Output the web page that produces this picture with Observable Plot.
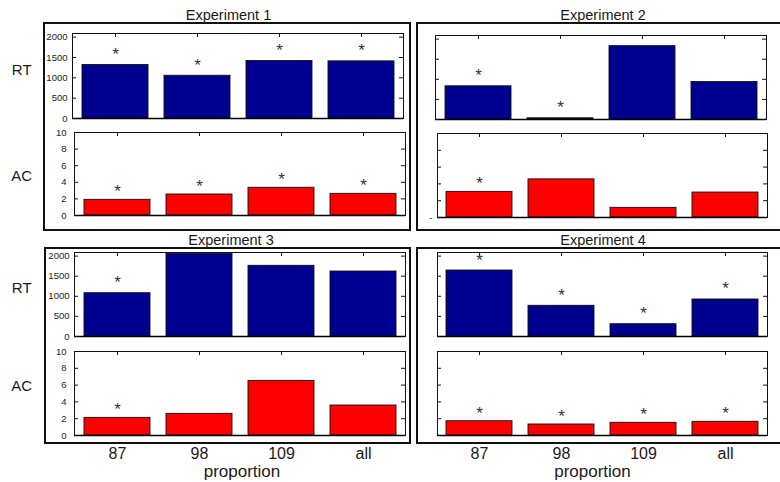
<!DOCTYPE html>
<html><head><meta charset="utf-8">
<script src="https://cdn.jsdelivr.net/npm/d3@7"></script>
<script src="https://cdn.jsdelivr.net/npm/@observablehq/plot@0.6"></script>
<style>
body{margin:0;background:#fff}
#chart{position:relative;width:780px;height:482px;overflow:hidden;background:#fff;font-family:"Liberation Sans",Arial,sans-serif;color:#1a1a1a}
.box{position:absolute;border:2px solid #111;box-sizing:border-box}
.lbl{position:absolute;line-height:1;white-space:nowrap;transform:translateX(-50%)}
.panel{position:absolute}
.panel svg{overflow:visible}
</style></head><body><div id="chart"></div>
<script>
// ---- data ----
const categories = ["87", "98", "109", "all"];
const titles = ["Experiment 1", "Experiment 2", "Experiment 3", "Experiment 4"];
const rowLabels = ["RT", "AC"];
const xLabel = "proportion";

const rtExp1 = [1316, 1051, 1415, 1405];
const rtExp2 = [826, 30, 1825, 932];
const rtExp3 = [1077, 2058, 1759, 1617];
const rtExp4 = [1642, 764, 306, 921];

const acExp1 = [1.89, 2.53, 3.34, 2.61];
const acExp2 = [3.05, 4.54, 1.15, 2.97];
const acExp3 = [2.10, 2.58, 6.50, 3.57];
const acExp4 = [1.70, 1.31, 1.51, 1.63];

// significance markers (*)
const rtSig1 = [true, true, true, true];
const rtSig2 = [true, true, false, false];
const rtSig3 = [true, false, false, false];
const rtSig4 = [true, true, true, true];
const acSig1 = [true, true, true, true];
const acSig2 = [true, false, false, false];
const acSig3 = [true, false, false, false];
const acSig4 = [true, true, true, true];

const rtTicks = [0, 500, 1000, 1500, 2000];
const acTicks = [0, 2, 4, 6, 8, 10];
const rtDomain = [0, 2090];
const acDomain = [0, 10];

// ---- layout ----
const chart = document.getElementById("chart");
const RT_COLOR = "#00008f", AC_COLOR = "#ff0000";

function addBox(l, t, r, b) {
  const d = document.createElement("div");
  d.className = "box";
  Object.assign(d.style, {left: l + "px", top: t + "px", width: (r - l) + "px", height: (b - t) + "px"});
  chart.appendChild(d);
}
function addLabel(text, cx, baseline, fs) {
  const d = document.createElement("div");
  d.className = "lbl";
  d.textContent = text;
  Object.assign(d.style, {left: cx + "px", top: (baseline - 0.8465 * fs) + "px", fontSize: fs + "px"});
  chart.appendChild(d);
}

addBox(43, 22, 411, 231);
addBox(416, 22, 790, 231);
addBox(44, 247, 411, 444);
addBox(416, 247, 790, 444);

addLabel(titles[0], 228.5, 20.7, 14.5);
addLabel(titles[1], 603, 20.5, 14.5);
addLabel(titles[2], 231, 245, 14.5);
addLabel(titles[3], 603, 245, 14.5);

addLabel(rowLabels[0], 21.7, 75, 15);
addLabel(rowLabels[1], 21.7, 180.5, 15);
addLabel(rowLabels[0], 21.7, 293, 15);
addLabel(rowLabels[1], 21.7, 390.5, 15);

function panel({fx, fy, fw, fh, kind, values, sig, showY, bottom, propDx, stray}) {
  const isRT = kind === "RT";
  const ticks = isRT ? rtTicks : acTicks;
  const ml = 40, mr = 8, mt = 8, mb = bottom ? 48 : 8;
  const rows = categories.map((c, i) => ({c, v: values[i], s: sig[i]}));
  const marks = [
    Plot.barY(rows, {x: "c", y: "v", fill: isRT ? RT_COLOR : AC_COLOR, stroke: "#111", strokeWidth: 0.9}),
    Plot.frame({stroke: "#111", strokeWidth: 1}),
    Plot.ruleY([0], {stroke: "#000", strokeWidth: 1.4}),
    Plot.tickY(ticks, {y: d => d, insetRight: fw - 4, stroke: "#111"}),
    Plot.tickY(ticks, {y: d => d, insetLeft: fw - 4, stroke: "#111"}),
    Plot.tickX(categories, {x: d => d, insetBottom: fh - 4, stroke: "#111"}),
    Plot.text(rows.filter(d => d.s), {x: "c", y: "v", text: () => "*", lineAnchor: "bottom",
      dy: isRT ? -5 : -2.5, fontSize: 17, fill: "#333"})
  ];
  if (showY) marks.push(Plot.axisY(ticks, {tickSize: 0, tickPadding: isRT ? 5 : 8, tickFormat: d => String(d), label: null, fontSize: 9.5, fill: "#222"}));
  if (stray) marks.push(Plot.axisY([0], {tickSize: 0, tickPadding: 5, tickFormat: () => "-", label: null, fontSize: 9.5, fill: "#222"}));
  if (bottom) {
    marks.push(Plot.axisX({tickSize: 0, tickPadding: 12, label: null, fontSize: 16, fill: "#1a1a1a"}));
    marks.push(Plot.text([xLabel], {text: d => d, frameAnchor: "bottom", lineAnchor: "bottom", dy: 41, dx: propDx, fontSize: 17, fill: "#1a1a1a"}));
  }
  const svg = Plot.plot({
    width: ml + fw + mr, height: mt + fh + mb,
    marginLeft: ml, marginRight: mr, marginTop: mt, marginBottom: mb,
    x: {domain: categories, paddingInner: 0.2, paddingOuter: 0.1, axis: bottom ? undefined : null, label: null},
    y: {domain: isRT ? rtDomain : acDomain, axis: (showY || stray) ? undefined : null, label: null},
    style: {background: "transparent", fontFamily: '"Liberation Sans", Arial, sans-serif', overflow: "visible"},
    marks
  });
  const wrap = document.createElement("div");
  wrap.className = "panel";
  Object.assign(wrap.style, {left: (fx - ml) + "px", top: (fy - mt) + "px"});
  wrap.appendChild(svg);
  chart.appendChild(wrap);
}

panel({fx: 72, fy: 33, fw: 331, fh: 85, kind: "RT", values: rtExp1, sig: rtSig1, showY: true});
panel({fx: 74, fy: 132, fw: 331, fh: 83, kind: "AC", values: acExp1, sig: acSig1, showY: true});
panel({fx: 435, fy: 35, fw: 331, fh: 84, kind: "RT", values: rtExp2, sig: rtSig2});
panel({fx: 437, fy: 133, fw: 330, fh: 84, kind: "AC", values: acExp2, sig: acSig2, stray: true});
panel({fx: 74, fy: 252, fw: 331, fh: 84, kind: "RT", values: rtExp3, sig: rtSig3, showY: true});
panel({fx: 74, fy: 351, fw: 331, fh: 84, kind: "AC", values: acExp3, sig: acSig3, showY: true, bottom: true, propDx: 2});
panel({fx: 437, fy: 252, fw: 330, fh: 84, kind: "RT", values: rtExp4, sig: rtSig4});
panel({fx: 437, fy: 351, fw: 330, fh: 84, kind: "AC", values: acExp4, sig: acSig4, bottom: true, propDx: -10});
</script></body></html>
